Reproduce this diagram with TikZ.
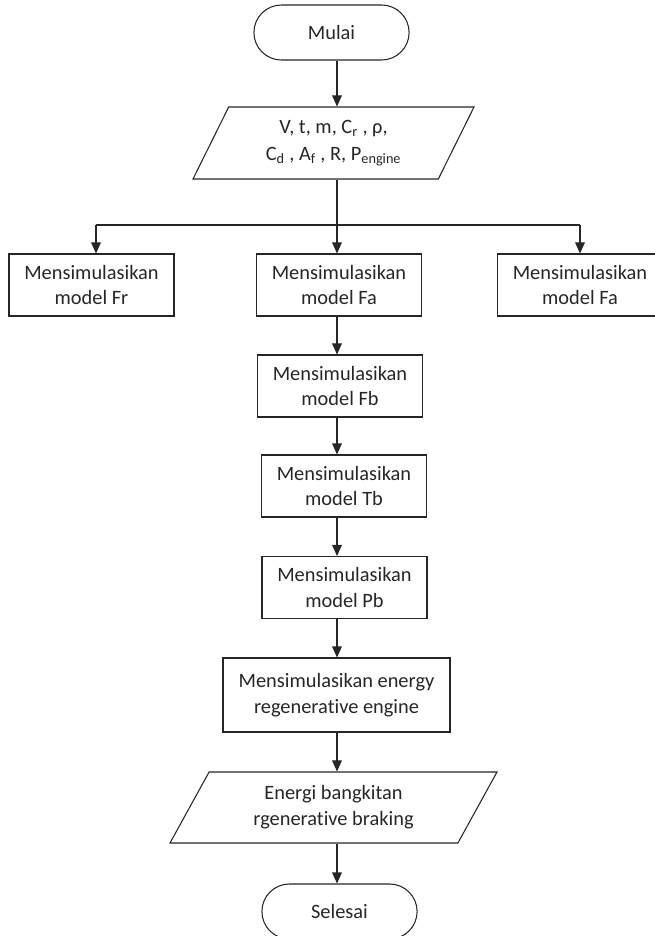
\documentclass[tikz,border=0pt]{standalone}
\usepackage{fontspec}
\setmainfont[Ligatures={NoCommon,NoContextual,NoRare}]{Carlito}
\usetikzlibrary{shapes.geometric,shapes.misc,arrows.meta}

\begin{document}
\begin{tikzpicture}[x=0.03cm, y=-0.03cm,
        font=\fontsize{17.4}{22}\selectfont,
        garis/.style={line width=0.9pt, draw=black!85},
        panah/.style={garis, -{Triangle[length=0.33cm, width=0.29cm]}},
        terminal/.style={rounded rectangle, garis, text=black!85, minimum width=4.89cm, minimum height=1.65cm},
        proses/.style={rectangle, garis, text=black!85, align=center, minimum width=4.95cm, minimum height=1.86cm, inner sep=0pt},
        io/.style={trapezium, trapezium stretches body, garis, text=black!85, align=center, inner sep=0pt}
    ]
    \clip (0,0) rectangle (655,936);

    % Terminal
    \node[terminal] (mulai) at (331.5,32.5) {Mulai};
    \node[terminal] (selesai) at (339.5,911.5) {Selesai};

    % Input / output
    \node[io, trapezium left angle=52, trapezium right angle=128,
          minimum width=8.43cm, minimum height=2.16cm] (input) at (333.5,143)
          {V, t, m, C\textsubscript{r} , ρ,\\[1pt] C\textsubscript{d} , A\textsubscript{f} , R, P\textsubscript{engine}};
    \node[io, trapezium left angle=48, trapezium right angle=132,
          minimum width=9.81cm, minimum height=2.13cm] (output) at (333.5,807.5)
          {Energi bangkitan\\ rgenerat\kern0pt ive braking};

    % Proses
    \node[proses] (fr) at (91.5,285) {Mensimulasikan\\ model Fr};
    \node[proses] (fa) at (339,285) {Mensimulasikan\\ model Fa};
    \node[proses] (fa2) at (580,285) {Mensimulasikan\\ model Fa};
    \node[proses] (fb) at (340,386) {Mensimulasikan\\ model Fb};
    \node[proses] (tb) at (344,486) {Mensimulasikan\\ model Tb};
    \node[proses] (pb) at (344.5,587.5) {Mensimulasikan\\ model Pb};
    \node[proses, minimum width=6.81cm, minimum height=2.22cm] (energi) at (336.5,695)
          {Mensimulasikan energy\\ regenerat\kern0pt ive engine};

    % Titik bantu
    \coordinate (kolom) at (337,0);
    \coordinate (cabang) at (337,225);
    \coordinate (kiri) at (96,225);
    \coordinate (kanan) at (580,225);

    % Alur
    \draw[panah] (mulai.south -| kolom) -- (input.north -| kolom);
    \draw[garis] (input.south -| kolom) -- (cabang);
    \draw[garis] (kiri) -- (kanan);
    \draw[panah] (kiri) -- (fr.north -| kiri);
    \draw[panah] (cabang) -- (fa.north -| kolom);
    \draw[panah] (kanan) -- (fa2.north -| kanan);
    \draw[panah] (fa.south -| kolom) -- (fb.north -| kolom);
    \draw[panah] (fb.south -| kolom) -- (tb.north -| kolom);
    \draw[panah] (tb.south -| kolom) -- (pb.north -| kolom);
    \draw[panah] (pb.south -| kolom) -- (energi.north -| kolom);
    \draw[panah] (energi.south -| kolom) -- (output.north -| kolom);
    \draw[panah] (output.south -| kolom) -- (selesai.north -| kolom);
\end{tikzpicture}
\end{document}
